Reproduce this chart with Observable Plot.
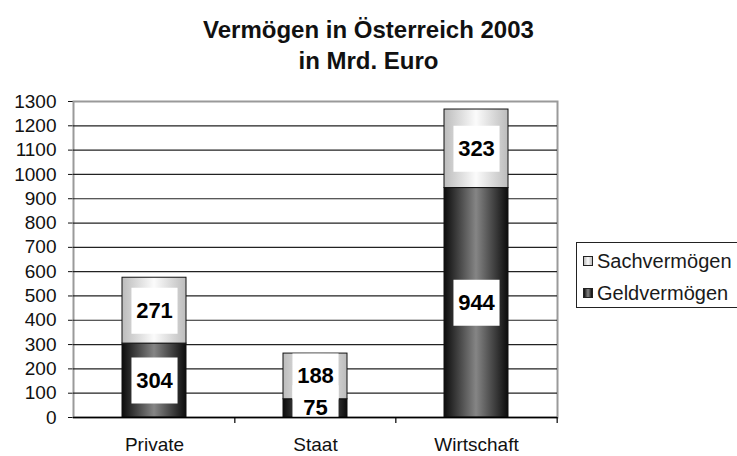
<!DOCTYPE html>
<html><head><meta charset="utf-8">
<script src="https://cdn.jsdelivr.net/npm/d3@7"></script>
<script src="https://cdn.jsdelivr.net/npm/@observablehq/plot@0.6"></script>
<style>
body{margin:0;background:#fff;font-family:"Liberation Sans",Arial,sans-serif;}
#wrap{position:relative;width:737px;height:456px;overflow:hidden;background:#fff;}
#title{height:86px;width:737px;text-align:center;font-weight:bold;font-size:24px;color:#111;box-sizing:border-box;padding-top:14px;line-height:31px;}
#chart svg{display:block;}
#chart svg text{font-family:"Liberation Sans",Arial,sans-serif;}
#legend{position:absolute;left:576px;top:242px;width:170px;height:66px;border:1px solid #222;box-sizing:border-box;font-size:20px;color:#1a1a1a;}
#legend .item{position:absolute;left:6px;height:22px;line-height:22px;white-space:nowrap;}
#legend .sw{display:inline-block;width:8px;height:8px;border:1px solid #222;margin-right:4px;vertical-align:2px;}
</style></head>
<body>
<div id="wrap">
  <div id="title">Vermögen in Österreich 2003<br>in Mrd. Euro</div>
  <div id="chart"></div>
  <div id="legend"></div>
</div>
<script>
const categories = ["Private", "Staat", "Wirtschaft"];
const seriesNames = ["Geldvermögen", "Sachvermögen"];
const geldvermoegen = [304, 75, 944];
const sachvermoegen = [271, 188, 323];
const yTicks = [0, 100, 200, 300, 400, 500, 600, 700, 800, 900, 1000, 1100, 1200, 1300];
const legendOrder = ["Sachvermögen", "Geldvermögen"];

const rows = [];
categories.forEach((c, i) => {
  rows.push({cat: c, series: seriesNames[0], value: geldvermoegen[i]});
  rows.push({cat: c, series: seriesNames[1], value: sachvermoegen[i]});
});

const W = 737, H = 370, mL = 73, mR = 180, mT = 15, mB = 39;
const step = (W - mL - mR) / categories.length;
const fills = ["url(#gGeld)", "url(#gSach)"];

const chart = Plot.plot({
  width: W, height: H,
  marginLeft: mL, marginRight: mR, marginTop: mT, marginBottom: mB,
  style: {fontFamily: "'Liberation Sans', Arial, sans-serif", fontSize: "19px", color: "#111", background: "#fff"},
  x: {domain: categories, paddingInner: 0.6, paddingOuter: 0.3, label: null, tickSize: 0, tickPadding: 20, fontSize: 20},
  y: {domain: [0, 1300], ticks: yTicks, tickSize: 5, tickPadding: 12, label: null, line: true, tickFormat: d => String(d)},
  color: {domain: seriesNames, range: fills},
  marks: [
    Plot.frame({stroke: "#9a9a9a", strokeWidth: 2}),
    Plot.ruleY(yTicks.filter(t => t > 0 && t < 1300), {stroke: "#222", strokeWidth: 1.2}),
    Plot.barY(rows, {x: "cat", y: "value", z: "series", fill: "series", stroke: "#111", strokeWidth: 1}),
    Plot.dot(rows, Plot.stackY({x: "cat", y: "value", z: "series", symbol: "square", r: 26, fill: "white", stroke: "none", clip: true})),
    Plot.text(rows, Plot.stackY({x: "cat", y: "value", z: "series", text: d => String(d.value), fill: "#000", fontWeight: "bold", fontSize: 22})),
    Plot.ruleY([0], {stroke: "#000", strokeWidth: 1.5}),
    Plot.ruleX(categories.slice(1), {x: d => d, y1: 0, y2: -25, dx: -step / 2, stroke: "#000", strokeWidth: 1.2}),
    Plot.ruleX(categories.slice(-1), {x: d => d, y1: 0, y2: -25, dx: step / 2, stroke: "#000", strokeWidth: 1.2})
  ]
});

const svg = d3.select(chart);
const defs = svg.insert("defs", ":first-child");
const g1 = defs.append("linearGradient").attr("id", "gGeld").attr("x1", "0").attr("x2", "1").attr("y1", "0").attr("y2", "0");
[["0%", "#0c0c0c"], ["50%", "#858585"], ["100%", "#0c0c0c"]].forEach(([o, c]) => g1.append("stop").attr("offset", o).attr("stop-color", c));
const g2 = defs.append("linearGradient").attr("id", "gSach").attr("x1", "0").attr("x2", "1").attr("y1", "0").attr("y2", "0");
[["0%", "#bcbcbc"], ["50%", "#fbfbfb"], ["100%", "#bcbcbc"]].forEach(([o, c]) => g2.append("stop").attr("offset", o).attr("stop-color", c));
document.getElementById("chart").appendChild(chart);

const legend = document.getElementById("legend");
const swatchColors = {"Sachvermögen": "linear-gradient(90deg,#bcbcbc,#fbfbfb,#bcbcbc)", "Geldvermögen": "linear-gradient(90deg,#0c0c0c,#858585,#0c0c0c)"};
legendOrder.forEach((s, i) => {
  const it = document.createElement("div");
  it.className = "item";
  it.style.top = (7 + i * 32) + "px";
  const sw = document.createElement("span");
  sw.className = "sw";
  sw.style.background = swatchColors[s];
  it.appendChild(sw);
  it.appendChild(document.createTextNode(s));
  legend.appendChild(it);
});
</script>
</body></html>
